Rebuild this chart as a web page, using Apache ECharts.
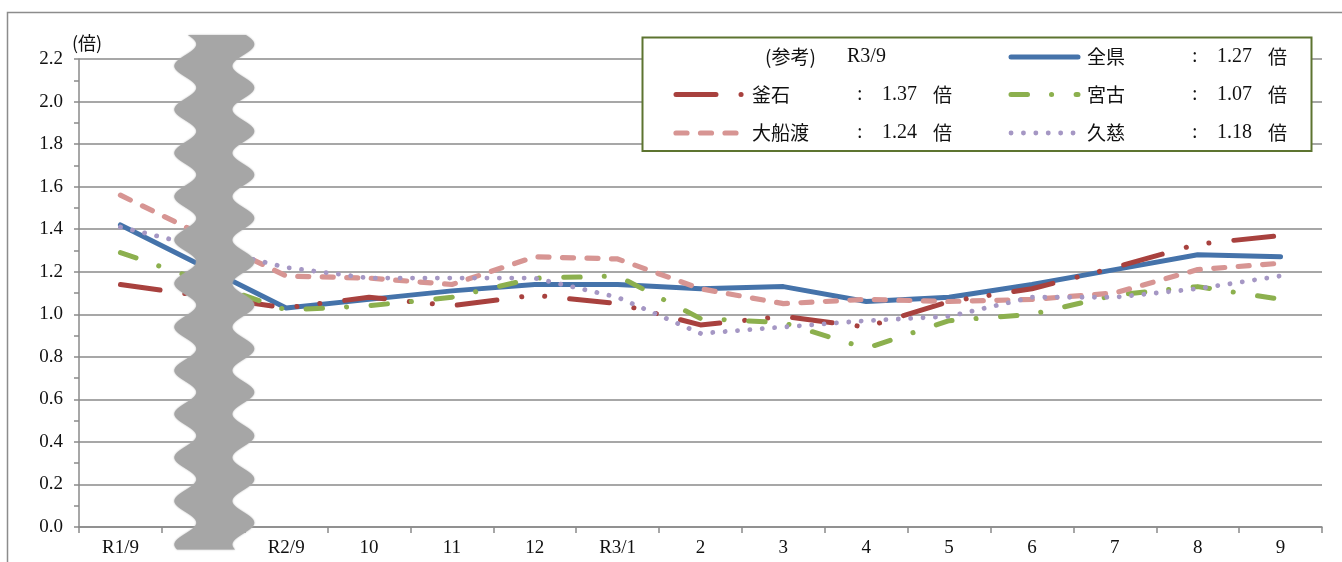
<!DOCTYPE html>
<html><head><meta charset="utf-8">
<script src="https://cdn.jsdelivr.net/npm/echarts@6/dist/echarts.min.js"></script>
<style>html,body{margin:0;padding:0;background:#fff}#c{width:1342px;height:562px}</style>
</head><body><div id="c"></div>
<script>
// ---- data ----
const categories = ['R1/9', '', 'R2/9', '10', '11', '12', 'R3/1', '2', '3', '4', '5', '6', '7', '8', '9'];
const zenken   = [1.42, null, 1.03, 1.07, 1.11, 1.14, 1.14, 1.12, 1.13, 1.06, 1.08, 1.14, 1.21, 1.28, 1.27];
const kamaishi = [1.14, null, 1.03, 1.08, 1.04, 1.09, 1.05, 0.95, 0.99, 0.94, 1.06, 1.12, 1.22, 1.33, 1.37];
const miyako   = [1.29, null, 1.02, 1.04, 1.08, 1.17, 1.18, 0.98, 0.96, 0.84, 0.97, 1.00, 1.09, 1.13, 1.07];
const ofunato  = [1.56, null, 1.18, 1.17, 1.14, 1.27, 1.26, 1.12, 1.05, 1.07, 1.06, 1.07, 1.10, 1.21, 1.24];
const kuji     = [1.41, null, 1.22, 1.17, 1.17, 1.17, 1.08, 0.91, 0.94, 0.97, 0.99, 1.08, 1.08, 1.12, 1.18];
const seriesNames = ['全県', '釜石', '宮古', '大船渡', '久慈'];
const yAxisUnit = '(倍)';
const refLabel = '(参考)';
const refMonth = 'R3/9';
const unitText = '倍';

// ---- styles ----
const CJK = '"Noto Sans CJK JP", sans-serif';
const NUM = '"Liberation Serif", "Noto Sans CJK JP", serif';
const styles = [
  { color: '#4573aa', width: 5, type: 'solid' },
  { color: '#a8413e', width: 5, type: [40, 25, 0.1, 23, 0.1, 25] },
  { color: '#8cb04e', width: 5, type: [16.5, 24, 0.1, 24.5] },
  { color: '#d79593', width: 5.2, type: [11, 13.5] },
  { color: '#a597c4', width: 4.8, type: [0.1, 12.3] }
];
const seriesData = [zenken, kamaishi, miyako, ofunato, kuji];
const gridColor = '#8a8a8a';

const chart = echarts.init(document.getElementById('c'), null, { renderer: 'canvas' });
const option = {
  animation: false,
  backgroundColor: '#ffffff',
  textStyle: { fontFamily: NUM },
  grid: { left: 79, right: 20, top: 59, bottom: 35, containLabel: false },
  xAxis: {
    type: 'category', data: categories, boundaryGap: true,
    axisLine: { show: true, lineStyle: { color: gridColor, width: 1.5 } },
    axisTick: { show: true, length: 6, interval: 0, lineStyle: { color: gridColor, width: 1.5 } },
    axisLabel: { interval: 0, margin: 12, fontFamily: NUM, fontSize: 19, color: '#111' },
    splitLine: { show: false }
  },
  yAxis: {
    type: 'value', min: 0, max: 2.2, interval: 0.2,
    name: yAxisUnit, nameLocation: 'end', nameGap: 7,
    nameTextStyle: { fontFamily: CJK, fontSize: 18, color: '#111', align: 'center', padding: [0, 0, 0, 16] },
    axisLine: { show: true, lineStyle: { color: gridColor, width: 1.5 } },
    axisTick: { show: true, length: 5, lineStyle: { color: gridColor, width: 1.5 } },
    minorTick: { show: true, splitNumber: 2, length: 5, lineStyle: { color: gridColor, width: 1.5 } },
    splitLine: { show: true, lineStyle: { color: gridColor, width: 1.5 } },
    axisLabel: { formatter: v => v.toFixed(1), margin: 16, fontFamily: NUM, fontSize: 19, color: '#111' }
  },
  series: seriesNames.map((n, i) => ({
    name: n, type: 'line', data: seriesData[i], symbol: 'none', connectNulls: true,
    z: 2 + i,
    lineStyle: { color: styles[i].color, width: styles[i].width, type: styles[i].type, cap: 'round', join: 'round' },
    emphasis: { disabled: true }
  }))
};
chart.setOption(option);

// ---- decorations: break mark, outer border, legend box ----
const gapPt = chart.convertToPixel({ gridIndex: 0 }, [1, 0]);
const topPt = chart.convertToPixel({ gridIndex: 0 }, [1, 2.2]);
const bTop = topPt[1] - 24, bBot = gapPt[1] + 23;
const cx = gapPt[0] + 11, half = 29, amp = 11, period = 43.5;
const leftE = [], rightE = [];
for (let y = bTop; y <= bBot + 0.01; y += 1.5) {
  const off = -amp * Math.cos(2 * Math.PI * (y - (bTop + 31)) / period);
  leftE.push([cx - half + off, y]);
  rightE.push([cx + half + off, y]);
}
const bandPts = leftE.concat(rightE.reverse());

const graphics = [
  { type: 'rect', z: 0, silent: true, shape: { x: 7.5, y: 12.5, width: 2000, height: 2000 },
    style: { fill: 'none', stroke: '#8c8c8c', lineWidth: 1.5 } },
  { type: 'polygon', z: 100, silent: true, shape: { points: bandPts },
    style: { fill: '#a6a6a6', shadowBlur: 2, shadowColor: '#b0b0b0' } },
  { type: 'rect', z: 110, silent: true, shape: { x: 642.5, y: 37.5, width: 669, height: 113.5 },
    style: { fill: '#ffffff', stroke: '#5d7430', lineWidth: 2 } },
  { type: 'text', z: 111, silent: true, style: { text: refLabel, x: 765, y: 57, font: '19px ' + CJK, fill: '#111', textVerticalAlign: 'middle' } },
  { type: 'text', z: 111, silent: true, style: { text: refMonth, x: 847, y: 57, font: '20px ' + NUM, fill: '#111', textVerticalAlign: 'middle' } }
];
// legend slots: [column offset, row y]
const slots = [[335, 57], [0, 94.5], [335, 94.5], [0, 133], [335, 133]];
seriesNames.forEach((n, i) => {
  const dx = slots[i][0], y = slots[i][1];
  const s = styles[i];
  const vals = seriesData[i];
  const last = vals[vals.length - 1];
  graphics.push({ type: 'polyline', z: 111, silent: true,
    shape: { points: [[676 + dx, y], [743 + dx, y]] },
    style: { stroke: s.color, lineWidth: s.width, lineDash: s.type === 'solid' ? null : s.type, lineCap: 'round', fill: null } });
  graphics.push({ type: 'text', z: 111, silent: true, style: { text: n, x: 752 + dx, y: y, font: '19px ' + CJK, fill: '#111', textVerticalAlign: 'middle' } });
  graphics.push({ type: 'text', z: 111, silent: true, style: { text: ':', x: 857 + dx, y: y, font: '20px ' + NUM, fill: '#111', textVerticalAlign: 'middle' } });
  graphics.push({ type: 'text', z: 111, silent: true, style: { text: last.toFixed(2), x: 882 + dx, y: y, font: '20px ' + NUM, fill: '#111', textVerticalAlign: 'middle' } });
  graphics.push({ type: 'text', z: 111, silent: true, style: { text: unitText, x: 933 + dx, y: y, font: '19px ' + CJK, fill: '#111', textVerticalAlign: 'middle' } });
});
chart.setOption({ graphic: { elements: graphics } });
</script>
</body></html>
